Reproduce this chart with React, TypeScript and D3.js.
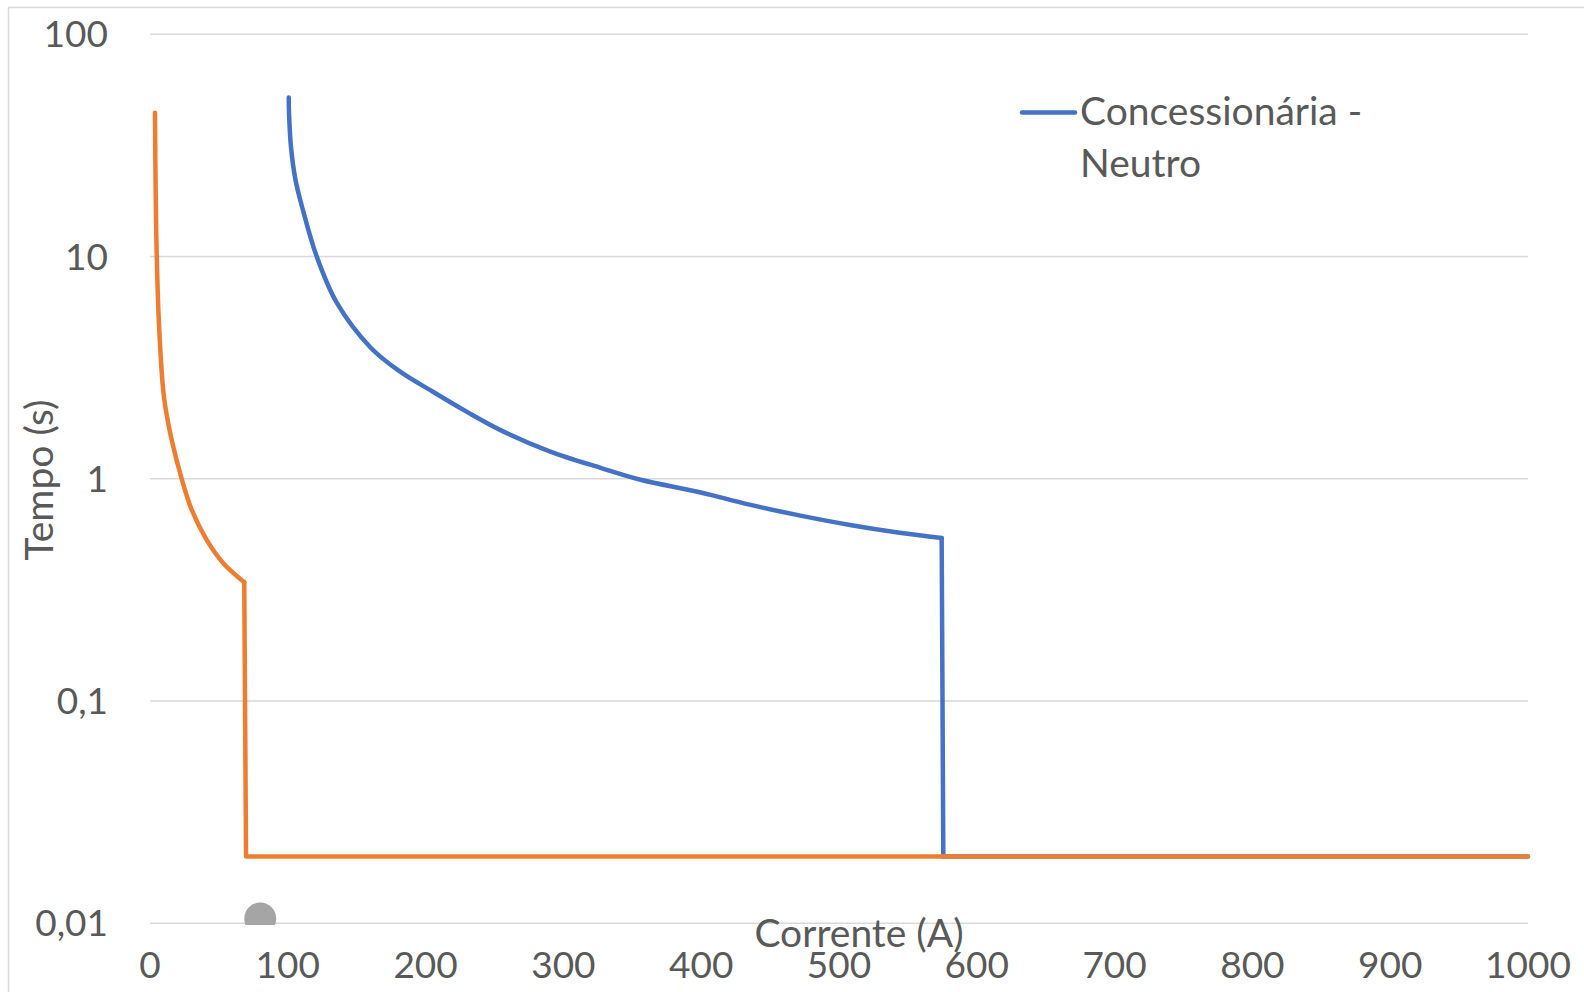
import * as React from "react";
import * as d3 from "d3";

// values (Corrente in A, Tempo in s)
const blueCurve: [number, number][] = [
  [100.7, 52], [100.9, 44], [102.3, 31.2], [105.6, 22.1], [111.2, 16.0],
  [121, 10], [135.5, 6.2], [160, 3.9], [181, 3.05], [205, 2.47], [230, 2.0],
  [254, 1.66], [290, 1.33], [327, 1.12], [356, 0.99], [399, 0.87],
  [435, 0.765], [472, 0.683], [508, 0.62], [544, 0.572], [574.5, 0.542],
];
const blueTail: [number, number][] = [[574.5, 0.542], [575.7, 0.02], [1000, 0.02]];

const orangeCurve: [number, number][] = [
  [3.6, 44.4], [4.1, 19.9], [4.9, 10], [6.5, 5.0], [9.6, 2.5], [12.1, 1.94],
  [15.7, 1.5], [23, 1.0], [30.3, 0.724], [41.1, 0.531], [53.2, 0.417],
  [68.4, 0.3425],
];
const orangeTail: [number, number][] = [[68.4, 0.3425], [69.7, 0.02], [1000, 0.02]];

const grayPoints: [number, number][] = [[80, 0.0105]];

const xTicks = [0, 100, 200, 300, 400, 500, 600, 700, 800, 900, 1000];
const yTicks = [100, 10, 1, 0.1, 0.01];
const yTickLabels = ["100", "10", "1", "0,1", "0,01"];

const legendLabel = ["Concessionária -", "Neutro"];
const xTitle = "Corrente (A)";
const yTitle = "Tempo (s)";

const W = 1584;
const H = 992;
const font = "Lato, 'Open Sans', sans-serif";
const textColor = "#595959";

export default function App() {
  const x = d3.scaleLinear().domain([0, 1000]).range([150, 1528]);
  const y = d3.scaleLog().domain([0.01, 100]).range([923.3, 34.3]);

  const smooth = d3
    .line<[number, number]>()
    .x((d) => x(d[0]))
    .y((d) => y(d[1]))
    .curve(d3.curveCatmullRom.alpha(0.5));
  const straight = d3
    .line<[number, number]>()
    .x((d) => x(d[0]))
    .y((d) => y(d[1]));

  const lineProps = {
    fill: "none",
    strokeWidth: 4.5,
    strokeLinejoin: "round" as const,
    strokeLinecap: "round" as const,
  };

  return (
    <svg
      width={W}
      height={H}
      style={{ position: "absolute", left: 0, top: 0, background: "#fff" }}
      fontFamily={font}
    >
      <defs>
        <clipPath id="plot">
          <rect x={140} y={30} width={1400} height={895} />
        </clipPath>
      </defs>
      <rect x={8.5} y={7.5} width={1600} height={1000} fill="#fff" stroke="#D9D9D9" strokeWidth={1.5} />

      {yTicks.map((t) => (
        <line key={t} x1={x(0)} x2={x(1000)} y1={y(t)} y2={y(t)} stroke="#D9D9D9" strokeWidth={1.5} />
      ))}

      {yTicks.map((t, i) => (
        <text key={t} x={108} y={y(t) + 13} textAnchor="end" fontSize={37} fill={textColor}>
          {yTickLabels[i]}
        </text>
      ))}
      {xTicks.map((t) => (
        <text key={t} x={x(t)} y={978} textAnchor="middle" fontSize={37} fill={textColor}>
          {t}
        </text>
      ))}

      <text x={859} y={947} textAnchor="middle" fontSize={39} fill={textColor}>
        {xTitle}
      </text>
      <text transform="translate(53,480) rotate(-90)" textAnchor="middle" fontSize={39} fill={textColor}>
        {yTitle}
      </text>

      <g clipPath="url(#plot)">
        {grayPoints.map((d, i) => (
          <circle key={i} cx={x(d[0])} cy={y(d[1])} r={16} fill="#A5A5A5" />
        ))}
        <path d={smooth(blueCurve) ?? ""} stroke="#4472C4" {...lineProps} />
        <path d={straight(blueTail) ?? ""} stroke="#4472C4" {...lineProps} />
        <path d={smooth(orangeCurve) ?? ""} stroke="#ED7D31" {...lineProps} />
        <path d={straight(orangeTail) ?? ""} stroke="#ED7D31" {...lineProps} />
      </g>

      <line x1={1022} x2={1075} y1={112.5} y2={112.5} stroke="#4472C4" strokeWidth={4.5} strokeLinecap="round" />
      {legendLabel.map((s, i) => (
        <text key={s} x={1080} y={125 + i * 52} fontSize={39} fill={textColor}>
          {s}
        </text>
      ))}
    </svg>
  );
}
